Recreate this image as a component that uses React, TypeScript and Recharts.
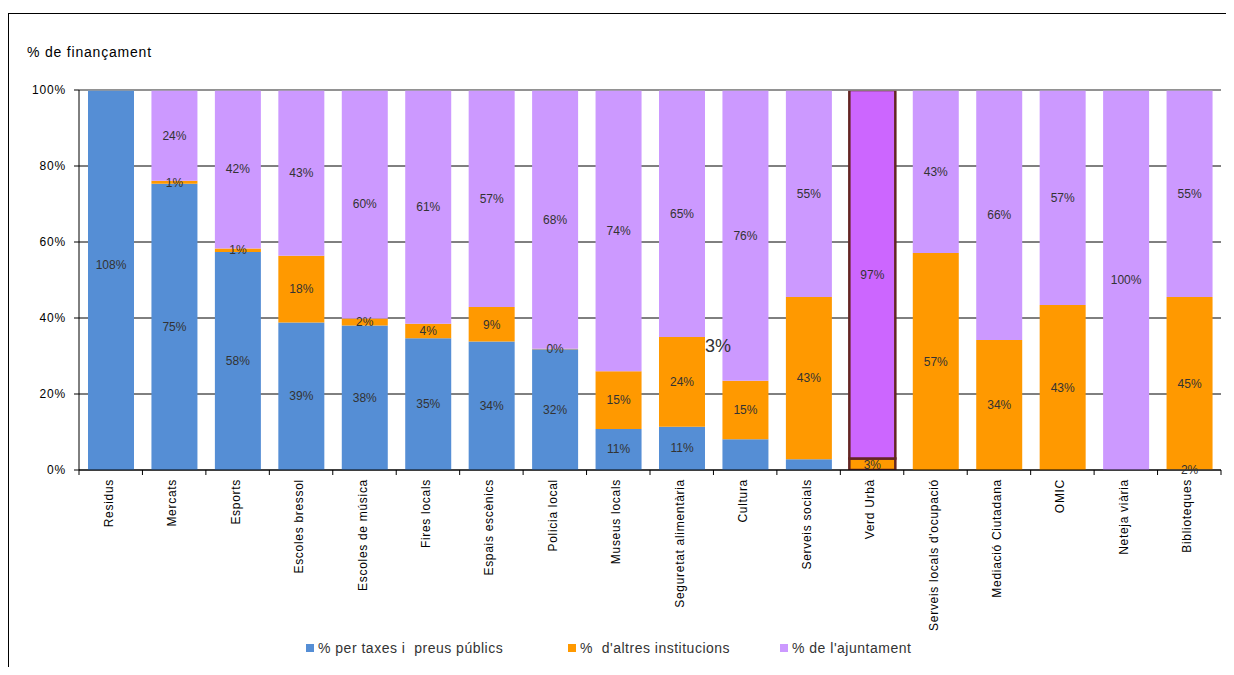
import React from "react";
import {
  BarChart,
  Bar,
  XAxis,
  YAxis,
  CartesianGrid,
  ReferenceLine,
  LabelList,
  Cell,
} from "recharts";

const categories = [
  "Residus",
  "Mercats",
  "Esports",
  "Escoles bressol",
  "Escoles de música",
  "Fires locals",
  "Espais escènics",
  "Policia local",
  "Museus locals",
  "Seguretat alimentària",
  "Cultura",
  "Serveis socials",
  "Verd Urbà",
  "Serveis locals d'ocupació",
  "Mediació Ciutadana",
  "OMIC",
  "Neteja viària",
  "Biblioteques",
];

// % de finançament per font
const taxes = [108, 75.3, 57.4, 38.8, 38.0, 34.7, 33.8, 31.8, 10.8, 11.4, 8.1, 2.8, 0, 0, 0, 0, 0, 0.1];
const altres = [0, 0.8, 0.9, 17.6, 1.9, 3.8, 9.1, 0.1, 15.2, 23.6, 15.4, 42.7, 3, 57.1, 34.2, 43.4, 0, 45.4];
const ajuntament = [-8, 23.9, 41.7, 43.6, 60.1, 61.5, 57.1, 68.1, 74, 65, 76.5, 54.5, 97, 42.9, 65.8, 56.6, 100, 54.5];

// etiquetes visibles a cada segment
const taxesLabels = ["108%", "75%", "58%", "39%", "38%", "35%", "34%", "32%", "11%", "11%", "", "", "", "", "", "", "", "2%"];
const altresLabels = ["", "1%", "1%", "18%", "2%", "4%", "9%", "0%", "15%", "24%", "15%", "43%", "3%", "57%", "34%", "43%", "", "45%"];
const ajuntamentLabels = ["", "24%", "42%", "43%", "60%", "61%", "57%", "68%", "74%", "65%", "76%", "55%", "97%", "43%", "66%", "57%", "100%", "55%"];

const yTicks = [0, 20, 40, 60, 80, 100];

const seriesNames = ["% per taxes i  preus públics", "%  d'altres institucions", "% de l'ajuntament"];

const BLUE = "#558ED5";
const ORANGE = "#FF9900";
const PURPLE = "#CC99FF";
const HIGHLIGHT = "#CC66FF";
const HIGHLIGHT_BORDER = "#632523";
const highlighted = "Verd Urbà";

const CHART_W = 1226;
const CHART_H = 660;
const MARGIN = { top: 82, right: 13, left: 11, bottom: 20 };
const Y_AXIS_W = 60;
const X_AXIS_H = 178;
const PLOT_W = CHART_W - MARGIN.left - Y_AXIS_W - MARGIN.right;
const BAND = PLOT_W / categories.length;
const TICK_MARGIN = 9;

const data = categories.map((name, i) => ({
  name,
  taxes: taxes[i],
  altres: altres[i],
  ajuntament: ajuntament[i],
  taxesLbl: taxesLabels[i],
  altresLbl: altresLabels[i],
  ajuntamentLbl: ajuntamentLabels[i],
}));

const CategoryTick = (props: any) => {
  const { x, y, payload, index } = props;
  const axisY = y - TICK_MARGIN;
  const left = x - BAND / 2;
  const right = x + BAND / 2;
  return (
    <g>
      <line x1={left} y1={axisY} x2={left} y2={axisY + 5} stroke="#000" />
      {index === categories.length - 1 && (
        <line x1={right} y1={axisY} x2={right} y2={axisY + 5} stroke="#000" />
      )}
      <text
        x={x - 2}
        y={y}
        transform={`rotate(-90 ${x - 2} ${y})`}
        textAnchor="end"
        dominantBaseline="central"
        fontSize={12}
        letterSpacing={0.7}
        fill="#000"
      >
        {payload.value}
      </text>
    </g>
  );
};

// the blue Residus bar goes past 100%: Excel centres its label on the full (unclipped) bar
const TaxesLabel = (props: any) => {
  const { x, y, width, height, value, index } = props;
  if (!value) return null;
  const v = taxes[index];
  const shown = Math.min(v, 100);
  const cy = shown > 0 ? y + height - (height * v) / 2 / shown : y + height / 2;
  return (
    <text x={x + width / 2} y={cy} textAnchor="middle" dominantBaseline="central" fill="#333" fontSize={12}>
      {value}
    </text>
  );
};

const labelStyle = { fill: "#333", fontSize: 12 };

export default function App() {
  const colors = [BLUE, ORANGE, PURPLE];
  return (
    <div
      style={{
        position: "relative",
        width: CHART_W,
        height: 667,
        marginBottom: -8,
        fontFamily: "'Liberation Sans', Arial, sans-serif",
        background: "#fff",
      }}
    >
      <div
        style={{
          position: "absolute",
          left: 0,
          top: 5,
          width: CHART_W,
          height: 662,
          borderTop: "1px solid #000",
          borderLeft: "1px solid #000",
          boxSizing: "border-box",
        }}
      />
      <div style={{ position: "absolute", left: 19, top: 36, fontSize: 14, letterSpacing: 0.8, color: "#000" }}>
        % de finançament
      </div>
      <BarChart
        width={CHART_W}
        height={CHART_H}
        data={data}
        margin={MARGIN}
        stackOffset="sign"
        barSize={46}
      >
        <CartesianGrid vertical={false} stroke="#000" />
        <ReferenceLine y={100} stroke="#999" strokeWidth={1.5} />
        <XAxis
          dataKey="name"
          interval={0}
          height={X_AXIS_H}
          tickLine={false}
          tickSize={0}
          tickMargin={TICK_MARGIN}
          axisLine={{ stroke: "#000" }}
          tick={<CategoryTick />}
        />
        <YAxis
          width={Y_AXIS_W}
          domain={[0, 100]}
          allowDataOverflow
          ticks={yTicks}
          tickFormatter={(v: number) => `${v}%`}
          axisLine={{ stroke: "#000" }}
          tickLine={{ stroke: "#000" }}
          tickSize={5}
          tickMargin={8}
          tick={{ fill: "#000", fontSize: 12, letterSpacing: 0.8 }}
        />
        <Bar dataKey="taxes" stackId="a" fill={BLUE} isAnimationActive={false}>
          <LabelList dataKey="taxesLbl" content={<TaxesLabel />} />
        </Bar>
        <Bar dataKey="altres" stackId="a" fill={ORANGE} isAnimationActive={false}>
          {data.map((d) => (
            <Cell
              key={d.name}
              fill={ORANGE}
              stroke={d.name === highlighted ? HIGHLIGHT_BORDER : "none"}
              strokeWidth={d.name === highlighted ? 2.5 : 0}
            />
          ))}
          <LabelList dataKey="altresLbl" position="center" style={labelStyle} />
        </Bar>
        <Bar dataKey="ajuntament" stackId="a" fill={PURPLE} isAnimationActive={false}>
          {data.map((d) => (
            <Cell
              key={d.name}
              fill={d.name === highlighted ? HIGHLIGHT : PURPLE}
              stroke={d.name === highlighted ? HIGHLIGHT_BORDER : "none"}
              strokeWidth={d.name === highlighted ? 2.5 : 0}
            />
          ))}
          <LabelList dataKey="ajuntamentLbl" position="center" style={labelStyle} />
        </Bar>
      </BarChart>
      {/* etiqueta solta del gràfic original */}
      <div style={{ position: "absolute", left: 697, top: 328, fontSize: 18, color: "#333" }}>3%</div>
      <div
        style={{
          position: "absolute",
          top: 632,
          left: 0,
          width: CHART_W,
          height: 18,
          fontSize: 14,
          letterSpacing: 0.5,
          color: "#333",
        }}
      >
        {seriesNames.map((name, i) => (
          <div
            key={name}
            style={{
              position: "absolute",
              left: [298, 560, 772][i],
              top: 0,
              display: "flex",
              alignItems: "center",
              whiteSpace: "pre",
            }}
          >
            <span style={{ width: 8, height: 8, background: colors[i], marginRight: 4 }} />
            {name}
          </div>
        ))}
      </div>
    </div>
  );
}
